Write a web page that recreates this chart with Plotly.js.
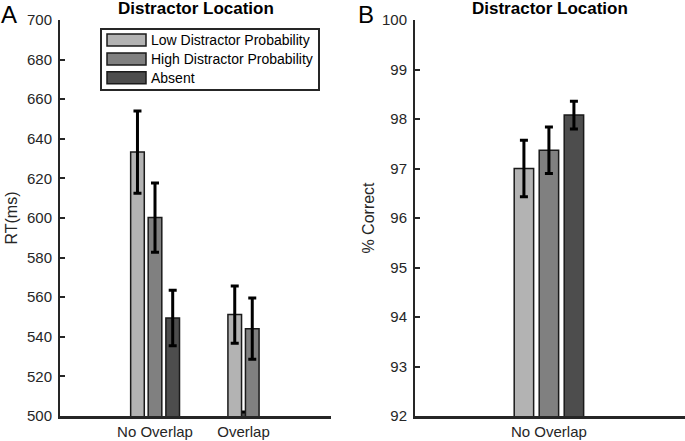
<!DOCTYPE html>
<html>
<head>
<meta charset="utf-8">
<script src="https://cdn.plot.ly/plotly-3.0.1.min.js"></script>
<style>html,body{margin:0;padding:0;background:#fff;}#chart{width:685px;height:441px;}</style>
</head>
<body>
<div id="chart"></div>
<script>
// ---- data ----
const seriesNames = ['Low Distractor Probability', 'High Distractor Probability', 'Absent'];
const rtCategories = ['No Overlap', 'Overlap'];
const rtLow = [633.3, 551.2];
const rtLowErr = [20.8, 14.5];
const rtHigh = [600.2, 544.1];
const rtHighErr = [17.5, 15.5];
const rtAbsent = [549.5, 502];
const rtAbsentErr = [14.0, null];
const accCategories = ['No Overlap'];
const accLow = [97.0];
const accLowErr = [0.57];
const accHigh = [97.37];
const accHighErr = [0.47];
const accAbsent = [98.08];
const accAbsentErr = [0.28];
const rtTicks = [500, 520, 540, 560, 580, 600, 620, 640, 660, 680, 700];
const accTicks = [92, 93, 94, 95, 96, 97, 98, 99, 100];

// ---- style ----
const colors = ['#b3b3b3', '#808080', '#4d4d4d'];
const W = 685, H = 441, T = 20, B = 25;
const px = v => v / W;
const py = v => (H - B - v) / (H - T - B);
const font = 'Liberation Sans, Arial, Helvetica, sans-serif';
const axisColor = '#262626';

// offsets within group (category units)
const rtOffsets = [[-0.198, 0, 0.2], [-0.099, 0.099, 0]]; // per category: low, high, absent
const rtWidth = 0.154;
const accOffsets = [-0.0926, 0, 0.0926];
const accWidth = 0.072;

function barTrace(xs, ys, errs, color, xa, ya, w) {
  return {
    type: 'bar', x: xs, y: ys, width: w, xaxis: xa, yaxis: ya,
    marker: {color: color, line: {color: '#1a1a1a', width: 1.5}},
    error_y: {type: 'data', array: errs, visible: true, color: '#000', thickness: 3, width: 4},
    showlegend: false, hoverinfo: 'skip'
  };
}

const rtSeries = [[rtLow, rtLowErr], [rtHigh, rtHighErr], [rtAbsent, rtAbsentErr]];
const accSeries = [[accLow, accLowErr], [accHigh, accHighErr], [accAbsent, accAbsentErr]];

const traces = [];
// draw Absent first so it sits behind
[2, 0, 1].forEach(s => {
  const xs = rtCategories.map((c, i) => (i + 1) + rtOffsets[i][s]);
  traces.push(barTrace(xs, rtSeries[s][0], rtSeries[s][1], colors[s], 'x', 'y', rtWidth));
});
[0, 1, 2].forEach(s => {
  const xs = accCategories.map((c, i) => (i + 1) + accOffsets[s]);
  traces.push(barTrace(xs, accSeries[s][0], accSeries[s][1], colors[s], 'x2', 'y2', accWidth));
});

const yAxisBase = {
  showline: true, linecolor: axisColor, linewidth: 2,
  ticks: 'inside', ticklen: 5, tickwidth: 2, tickcolor: axisColor,
  showgrid: false, zeroline: false,
  tickfont: {family: font, size: 15, color: axisColor},
  ticklabelstandoff: 3
};
const xAxisBase = {
  showline: true, linecolor: axisColor, linewidth: 2.5,
  ticks: '', showgrid: false, zeroline: false,
  tickfont: {family: font, size: 15, color: axisColor}
};

const shapes = [];
const annotations = [];
// panel titles
[[60, 331], [415, 685]].forEach(d => {
  annotations.push({text: '<b>Distractor Location</b>', xref: 'paper', yref: 'paper',
    x: px((d[0] + d[1]) / 2), y: py(8), xanchor: 'center', yanchor: 'middle', showarrow: false,
    font: {family: font, size: 17, color: '#000'}});
});
annotations.push({text: 'A', xref: 'paper', yref: 'paper', x: px(-1), y: py(14), xanchor: 'left', yanchor: 'middle',
  showarrow: false, font: {family: font, size: 24, color: '#000'}});
annotations.push({text: 'B', xref: 'paper', yref: 'paper', x: px(356), y: py(14), xanchor: 'left', yanchor: 'middle',
  showarrow: false, font: {family: font, size: 24, color: '#000'}});

// legend box
shapes.push({type: 'rect', xref: 'paper', yref: 'paper', x0: px(101), x1: px(319), y0: py(29), y1: py(90),
  line: {color: axisColor, width: 2}, fillcolor: '#fff', layer: 'above'});
const rowCenters = [40, 59, 77.7];
seriesNames.forEach((n, i) => {
  shapes.push({type: 'rect', xref: 'paper', yref: 'paper', x0: px(107), x1: px(146),
    y0: py(rowCenters[i] - 6), y1: py(rowCenters[i] + 6),
    line: {color: '#1a1a1a', width: 1.5}, fillcolor: colors[i], layer: 'above'});
  annotations.push({text: n, xref: 'paper', yref: 'paper', x: px(149), y: py(rowCenters[i]),
    xanchor: 'left', yanchor: 'middle', showarrow: false,
    font: {family: font, size: 14, color: '#000'}});
});

const layout = {
  width: W, height: H,
  margin: {l: 0, r: 0, t: T, b: B, pad: 0},
  paper_bgcolor: '#fff', plot_bgcolor: '#fff',
  barmode: 'overlay',
  showlegend: false,
  xaxis: Object.assign({}, xAxisBase, {domain: [px(60), px(331)], range: [-0.0734, 2.9887],
    tickmode: 'array', tickvals: rtCategories.map((c, i) => i + 1), ticktext: rtCategories}),
  yaxis: Object.assign({}, yAxisBase, {range: [500, 700], tickmode: 'array', tickvals: rtTicks,
    title: {text: 'RT(ms)', font: {family: font, size: 16, color: axisColor}, standoff: 5}}),
  xaxis2: Object.assign({}, xAxisBase, {domain: [px(415), 1], range: [0.504, 1.504], anchor: 'y2',
    tickmode: 'array', tickvals: accCategories.map((c, i) => i + 1), ticktext: accCategories}),
  yaxis2: Object.assign({}, yAxisBase, {range: [92, 100], anchor: 'x2', tickmode: 'array', tickvals: accTicks,
    title: {text: '% Correct', font: {family: font, size: 16, color: axisColor}, standoff: 3}}),
  shapes: shapes,
  annotations: annotations
};

Plotly.newPlot('chart', traces, layout, {staticPlot: true, displayModeBar: false});
</script>
</body>
</html>
